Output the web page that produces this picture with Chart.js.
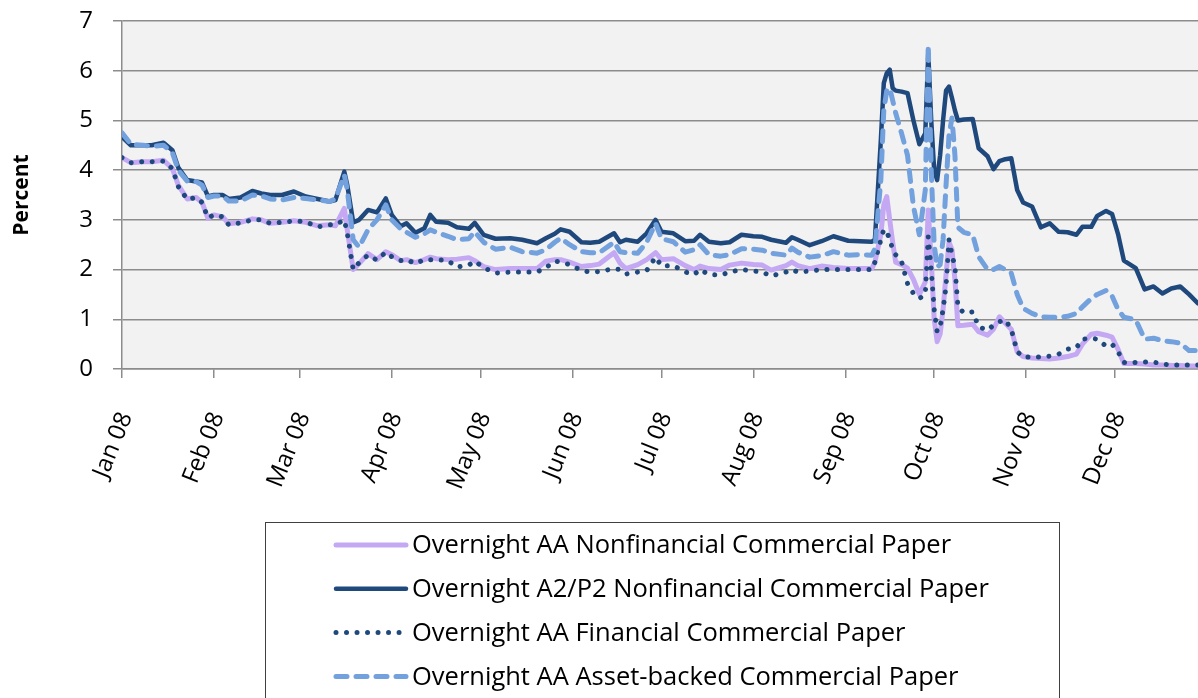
<!DOCTYPE html>
<html>
<head>
<meta charset="utf-8">
<script src="https://cdn.jsdelivr.net/npm/chart.js@4.4.1/dist/chart.umd.min.js"></script>
<style>
  html, body { margin: 0; padding: 0; background: #fff; }
  #wrap { width: 1198px; height: 698px; position: relative; }
</style>
</head>
<body>
<div id="wrap"><canvas id="grafico"></canvas></div>
<script>
// days since Jan 1 2008
const days = [0, 3, 7, 10, 14, 17, 19, 22, 25, 27, 29, 31, 34, 36, 40, 44, 47, 50, 54, 58, 62, 66, 70, 72, 75, 76, 78, 80, 83, 86,
  89, 91, 94, 96, 99, 102, 104, 106, 110, 113, 117, 119, 122, 126, 131, 135, 140, 143, 146, 148, 151, 155, 158, 161, 166, 168, 170, 174, 177, 180,
  182, 186, 190, 193, 195, 198, 202, 205, 209, 213, 216, 219, 224, 226, 228, 232, 236, 240, 245, 249, 253, 254, 256, 257, 258, 259, 260, 261, 263, 265,
  267, 269, 271, 272, 273, 274, 275, 276, 277, 278, 279, 280, 281, 282, 284, 287, 289, 292, 294, 296, 298, 300, 302, 304, 307, 310, 313, 316, 319, 322,
  324, 327, 329, 332, 334, 336, 338, 342, 345, 348, 351, 354, 357, 360, 363];

const aaNonfin = [4.25, 4.15, 4.17, 4.17, 4.2, 4.03, 3.7, 3.42, 3.45, 3.35, 3.03, 3.1, 3.06, 2.92, 2.95, 3.02, 3.0, 2.93, 2.95, 2.98, 2.95, 2.88, 2.9, 2.88, 3.23, 2.8, 2.0, 2.12, 2.32, 2.2,
  2.36, 2.3, 2.18, 2.2, 2.14, 2.2, 2.25, 2.22, 2.2, 2.21, 2.24, 2.18, 2.06, 2.0, 2.02, 2.02, 2.02, 2.17, 2.2, 2.2, 2.15, 2.06, 2.08, 2.11, 2.34, 2.13, 2.02, 2.1, 2.2, 2.34,
  2.2, 2.22, 2.08, 2.0, 2.07, 2.02, 2.0, 2.09, 2.13, 2.1, 2.09, 1.99, 2.08, 2.15, 2.08, 2.02, 2.07, 2.04, 2.02, 2.02, 2.02, 2.15, 2.7, 3.3, 3.47, 3.0, 2.55, 2.15, 2.1, 2.03,
  1.8, 1.5, 1.75, 3.2, 2.2, 1.0, 0.55, 0.7, 1.2, 1.9, 2.55, 2.4, 1.8, 0.87, 0.88, 0.9, 0.75, 0.68, 0.8, 1.05, 0.92, 0.8, 0.35, 0.25, 0.22, 0.21, 0.2, 0.22, 0.25, 0.3,
  0.5, 0.7, 0.72, 0.68, 0.64, 0.4, 0.11, 0.11, 0.1, 0.08, 0.08, 0.07, 0.07, 0.06, 0.06];

const a2p2Nonfin = [4.67, 4.5, 4.5, 4.5, 4.55, 4.4, 4.05, 3.8, 3.77, 3.75, 3.47, 3.5, 3.5, 3.42, 3.45, 3.58, 3.53, 3.5, 3.5, 3.57, 3.47, 3.42, 3.37, 3.4, 3.97, 3.7, 2.95, 3.0, 3.2, 3.15,
  3.43, 3.1, 2.87, 2.93, 2.74, 2.83, 3.1, 2.96, 2.94, 2.85, 2.82, 2.94, 2.7, 2.62, 2.63, 2.6, 2.53, 2.63, 2.72, 2.81, 2.76, 2.55, 2.54, 2.56, 2.73, 2.55, 2.6, 2.56, 2.73, 3.0,
  2.76, 2.73, 2.57, 2.58, 2.7, 2.56, 2.53, 2.55, 2.7, 2.67, 2.66, 2.6, 2.54, 2.65, 2.6, 2.49, 2.57, 2.67, 2.58, 2.57, 2.56, 2.6, 4.6, 5.75, 5.95, 6.02, 5.65, 5.6, 5.58, 5.55,
  5.0, 4.52, 4.74, 6.35, 5.0, 4.0, 3.8, 4.3, 5.0, 5.6, 5.68, 5.45, 5.2, 5.0, 5.02, 5.03, 4.44, 4.28, 4.02, 4.18, 4.22, 4.24, 3.6, 3.35, 3.27, 2.85, 2.93, 2.76, 2.75, 2.7,
  2.86, 2.86, 3.08, 3.18, 3.12, 2.72, 2.18, 2.03, 1.6, 1.66, 1.52, 1.62, 1.66, 1.5, 1.32];

const aaFin = [4.25, 4.15, 4.17, 4.17, 4.18, 4.03, 3.67, 3.41, 3.45, 3.35, 3.04, 3.1, 3.06, 2.9, 2.94, 3.0, 3.0, 2.93, 2.95, 2.98, 2.96, 2.86, 2.9, 2.9, 3.0, 2.73, 2.0, 2.14, 2.29, 2.19,
  2.35, 2.26, 2.18, 2.2, 2.12, 2.2, 2.2, 2.2, 2.18, 2.05, 2.09, 2.17, 2.04, 1.93, 1.95, 1.95, 1.95, 2.04, 2.17, 2.15, 2.1, 1.98, 1.95, 1.96, 2.02, 2.0, 1.91, 1.95, 1.98, 2.25,
  2.07, 2.08, 1.95, 1.9, 2.0, 1.9, 1.89, 1.95, 2.0, 1.97, 1.95, 1.87, 1.95, 2.0, 1.95, 1.97, 2.0, 2.0, 2.0, 2.0, 2.0, 2.15, 2.6, 2.81, 2.75, 2.62, 2.4, 2.3, 2.16, 1.72,
  1.52, 1.42, 1.5, 2.66, 2.0, 1.2, 0.75, 0.85, 1.2, 1.66, 2.6, 2.3, 2.06, 1.25, 1.13, 1.15, 0.85, 0.78, 0.88, 0.95, 0.99, 0.8, 0.35, 0.24, 0.24, 0.24, 0.26, 0.3, 0.4, 0.43,
  0.6, 0.62, 0.6, 0.46, 0.5, 0.35, 0.13, 0.13, 0.14, 0.14, 0.1, 0.08, 0.08, 0.08, 0.08];

const aaAbcp = [4.75, 4.52, 4.5, 4.48, 4.5, 4.35, 4.0, 3.78, 3.77, 3.7, 3.45, 3.48, 3.48, 3.38, 3.38, 3.5, 3.48, 3.42, 3.4, 3.45, 3.43, 3.4, 3.37, 3.42, 3.9, 3.6, 2.6, 2.45, 2.8, 3.0,
  3.3, 3.0, 2.82, 2.75, 2.65, 2.72, 2.8, 2.75, 2.67, 2.6, 2.62, 2.76, 2.55, 2.41, 2.45, 2.36, 2.33, 2.4, 2.55, 2.63, 2.5, 2.36, 2.34, 2.34, 2.55, 2.36, 2.34, 2.33, 2.55, 2.93,
  2.62, 2.56, 2.35, 2.4, 2.5, 2.3, 2.27, 2.3, 2.42, 2.41, 2.39, 2.33, 2.29, 2.43, 2.35, 2.25, 2.28, 2.36, 2.29, 2.3, 2.29, 2.42, 3.8, 5.2, 5.6, 5.65, 5.4, 5.15, 4.74, 4.3,
  3.27, 2.7, 3.6, 6.52, 4.0, 2.5, 2.05, 2.1, 2.6, 3.7, 4.7, 5.05, 4.3, 2.85, 2.75, 2.7, 2.26, 2.0, 2.0, 2.06, 2.0, 1.93, 1.5, 1.22, 1.12, 1.05, 1.04, 1.04, 1.06, 1.12,
  1.25, 1.42, 1.5, 1.58, 1.47, 1.2, 1.04, 0.99, 0.6, 0.62, 0.57, 0.55, 0.52, 0.37, 0.37];

const monthStarts = [0, 31, 60, 91, 121, 152, 182, 213, 244, 274, 305, 335];
const monthLabels = ["Jan 08", "Feb 08", "Mar 08", "Apr 08", "May 08", "Jun 08", "Jul 08", "Aug 08", "Sep 08", "Oct 08", "Nov 08", "Dec 08"];

const seriesNames = [
  "Overnight AA Nonfinancial Commercial Paper",
  "Overnight A2/P2 Nonfinancial Commercial Paper",
  "Overnight AA Financial Commercial Paper",
  "Overnight AA Asset-backed Commercial Paper"
];

function pontos(valores) {
  return days.map((d, i) => ({ x: d, y: valores[i] }));
}

Chart.defaults.font.family = "'Open Sans', sans-serif";
Chart.defaults.color = "#000";

// fundo cinza da area do grafico
const fundoPlot = {
  id: "fundoPlot",
  beforeDraw(chart) {
    const { ctx, chartArea: a } = chart;
    ctx.save();
    ctx.fillStyle = "#f2f2f2";
    ctx.fillRect(a.left, a.top, a.right - a.left, a.bottom - a.top);
    ctx.restore();
  }
};

// legenda em caixa, como no original
const legendaCaixa = {
  id: "legendaCaixa",
  afterDraw(chart) {
    const ctx = chart.ctx;
    ctx.save();
    ctx.strokeStyle = "#404040";
    ctx.lineWidth = 1;
    ctx.strokeRect(265.5, 522.5, 794, 200);
    ctx.font = "25.5px 'Open Sans', sans-serif";
    ctx.textBaseline = "middle";
    ctx.fillStyle = "#000";
    chart.data.datasets.forEach((ds, i) => {
      const y = 545 + i * 43.8;
      ctx.save();
      ctx.strokeStyle = ds.borderColor;
      ctx.lineWidth = ds.borderWidth;
      ctx.lineCap = ds.borderCapStyle || "butt";
      ctx.setLineDash(ds.borderDash || []);
      ctx.beginPath();
      ctx.moveTo(336, y);
      ctx.lineTo(406, y);
      ctx.stroke();
      ctx.restore();
      ctx.fillText(ds.label, 412, y + 1);
    });
    ctx.restore();
  }
};

const grafico = new Chart(document.getElementById("grafico"), {
  type: "line",
  data: {
    datasets: [
      {
        label: seriesNames[0],
        data: pontos(aaNonfin),
        borderColor: "#c5a8f3",
        borderWidth: 5,
        borderCapStyle: "round",
        order: 4
      },
      {
        label: seriesNames[1],
        data: pontos(a2p2Nonfin),
        borderColor: "#1f497d",
        borderWidth: 4.5,
        borderCapStyle: "round",
        order: 3
      },
      {
        label: seriesNames[2],
        data: pontos(aaFin),
        borderColor: "#1f497d",
        borderWidth: 5,
        borderDash: [0.01, 10.5],
        borderCapStyle: "round",
        order: 2
      },
      {
        label: seriesNames[3],
        data: pontos(aaAbcp),
        borderColor: "#72a1dd",
        borderWidth: 5,
        borderDash: [11, 9],
        borderCapStyle: "round",
        order: 1
      }
    ]
  },
  options: {
    responsive: true,
    maintainAspectRatio: false,
    animation: false,
    layout: { padding: { left: 0, right: 0, top: 21, bottom: 209 } },
    elements: {
      point: { radius: 0 },
      line: { tension: 0, borderJoinStyle: "round" }
    },
    plugins: {
      legend: { display: false },
      tooltip: { enabled: false }
    },
    scales: {
      x: {
        type: "linear",
        min: 0,
        max: 363,
        afterBuildTicks: (s) => { s.ticks = monthStarts.map((v) => ({ value: v })); },
        afterFit: (s) => { s.height = 120; },
        ticks: {
          autoSkip: false,
          minRotation: 68,
          maxRotation: 68,
          padding: 30,
          labelOffset: 4,
          font: { size: 24 },
          callback: (v, i) => monthLabels[i]
        },
        grid: { drawOnChartArea: false, drawTicks: true, tickLength: 9, color: "#8c8c8c", lineWidth: 1.5 },
        border: { color: "#8c8c8c", width: 1.5 }
      },
      y: {
        min: 0,
        max: 7,
        afterFit: (s) => { s.width = 122; s.paddingTop = 0; s.paddingBottom = 0; },
        ticks: { stepSize: 1, padding: 20, font: { size: 24 } },
        grid: { color: "#8c8c8c", lineWidth: 1.5, tickLength: 9 },
        border: { color: "#8c8c8c", width: 1.5 },
        title: {
          display: true,
          text: "Percent",
          font: { size: 21, weight: "bold" },
          padding: { top: 9, bottom: 0 }
        }
      }
    }
  },
  plugins: [fundoPlot, legendaCaixa]
});
</script>
</body>
</html>
